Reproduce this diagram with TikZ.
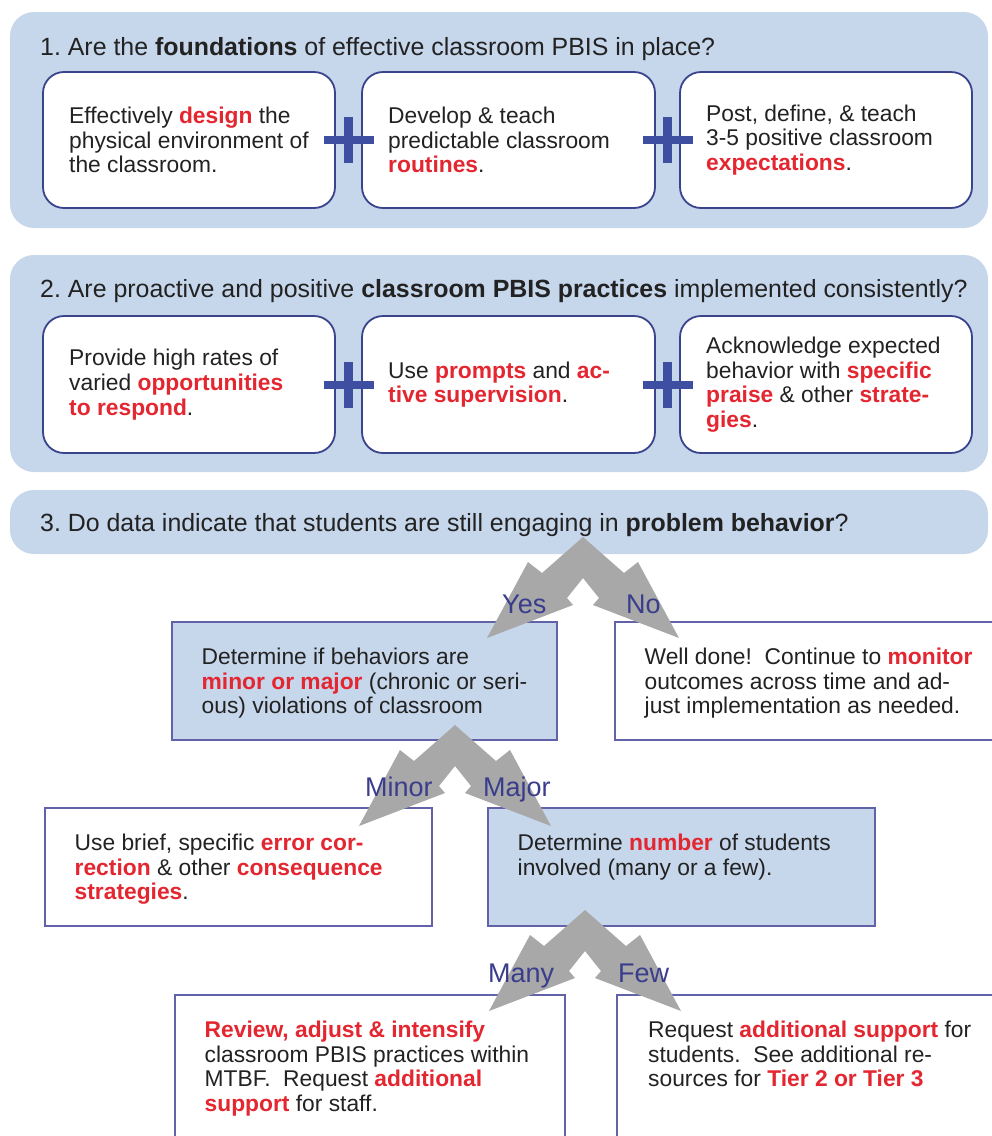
\documentclass[tikz,border=0pt]{standalone}
\usepackage{fontspec}
\setmainfont{Liberation Sans}
\usetikzlibrary{calc}
\frenchspacing

\definecolor{panelblue}{RGB}{198,214,235}
\definecolor{cardedge}{RGB}{58,68,140}
\definecolor{flowedge}{RGB}{98,98,168}
\definecolor{hlred}{RGB}{228,38,48}
\definecolor{ink}{RGB}{34,34,34}
\definecolor{plusblue}{RGB}{62,78,160}
\definecolor{arrowgray}{RGB}{168,168,168}
\definecolor{labelblue}{RGB}{58,60,140}

\newcommand\hl[1]{\textcolor{hlred}{\bfseries #1}}
\newcommand\bodyfont{\fontsize{22.8}{24.6}\selectfont}
\newcommand\titlefont{\fontsize{24.9}{29}\selectfont}
\newcommand\labelfont{\fontsize{27}{30}\selectfont}

\tikzset{
  pics/plussign/.style={code={
    \fill[plusblue] (-25,-4) rectangle (25,4);
    \fill[plusblue] (-4.5,-23) rectangle (4.5,23);
  }},
  pics/splitarrow/.style={code={
    \fill[arrowgray] (0,0) -- (-41,36) -- (-55,25) -- (-96,101) -- (-10,68)
      -- (-16,61) -- (0,41) -- (16,61) -- (10,68) -- (96,101) -- (55,25)
      -- (41,36) -- cycle;
  }}
}

\begin{document}
\begin{tikzpicture}[x=1pt,y=-1pt,
  panel/.style={fill=panelblue, rounded corners=24pt},
  card/.style={draw=cardedge, line width=1.8pt, fill=white, rounded corners=21pt,
    minimum width=292pt, minimum height=136pt, inner sep=0pt, outer sep=0pt},
  flowbox/.style={draw=flowedge, line width=1.5pt, fill=white,
    minimum height=118pt, inner sep=0pt, outer sep=0pt},
  bluebox/.style={flowbox, fill=panelblue},
  title/.style={anchor=base west, inner sep=0pt, font=\titlefont, text=ink},
  cardtext/.style={anchor=west, inner sep=0pt, align=left, font=\bodyfont, text=ink},
  flowtext/.style={anchor=north west, inner sep=0pt, align=left, font=\bodyfont,
    text=ink, execute at begin node=\strut},
  branch/.style={anchor=base west, inner sep=0pt, font=\labelfont, text=labelblue}]

\useasboundingbox (0,0) rectangle (992,1136);
\clip (0,0) rectangle (992,1136);

% question panels
\fill[panel] (10,12) rectangle (988,228);
\fill[panel] (10,255) rectangle (988,472);
\fill[panel] (10,490) rectangle (988,554);

\node[title] (q1) at (40,55) {1. Are the \textbf{foundations} of effective classroom PBIS in place?};
\node[title] (q2) at (40,297) {2. Are proactive and positive \textbf{classroom PBIS practices} implemented consistently?};
\node[title] (q3) at (40,531) {3. Do data indicate that students are still engaging in \textbf{problem behavior}?};

% foundation cards
\node[card] (c11) at (189,140) {};
\node[card, minimum width=293pt] (c12) at (508.5,140) {};
\node[card] (c13) at (826,140) {};
\node[cardtext] (c11t) at ([xshift=26pt]c11.west) {Effectively \hl{design} the\\physical environment of\\the classroom.};
\node[cardtext] (c12t) at ([xshift=26pt]c12.west) {Develop \& teach\\predictable classroom\\\hl{routines}.};
\node[cardtext] (c13t) at ([xshift=26pt]c13.west) {Post, define, \& teach\\3-5 positive classroom\\\hl{expectations}.};
\pic at ($(c11.east)!0.5!(c12.west)$) {plussign};
\pic at ($(c12.east)!0.5!(c13.west)$) {plussign};

% practice cards
\node[card, minimum height=137pt] (c21) at (189,384.5) {};
\node[card, minimum height=137pt, minimum width=293pt] (c22) at (508.5,384.5) {};
\node[card, minimum height=137pt] (c23) at (826,384.5) {};
\node[cardtext] (c21t) at ([xshift=26pt]c21.west) {Provide high rates of\\varied \hl{opportunities}\\\hl{to respond}.};
\node[cardtext] (c22t) at ([xshift=26pt]c22.west) {Use \hl{prompts} and \hl{ac-}\\\hl{tive supervision}.};
\node[cardtext] (c23t) at ([xshift=26pt]c23.west) {Acknowledge expected\\behavior with \hl{specific}\\\hl{praise} \& other \hl{strate-}\\\hl{gies}.};
\pic at ($(c21.east)!0.5!(c22.west)$) {plussign};
\pic at ($(c22.east)!0.5!(c23.west)$) {plussign};

% decision boxes
\node[bluebox, minimum width=385pt] (yes) at (364.5,681) {};
\node[flowbox, minimum width=395pt] (no) at (812.5,681) {};
\node[flowbox, minimum width=387pt] (minor) at (238.5,867) {};
\node[bluebox, minimum width=387pt] (major) at (681.5,867) {};
\node[flowbox, minimum width=390pt, minimum height=165pt] (many) at (370,1077.5) {};
\node[flowbox, minimum width=393pt, minimum height=165pt] (few) at (813.5,1077.5) {};

\node[flowtext] (yest) at ([xshift=29.5pt,yshift=-25.8pt]yes.north west) {Determine if behaviors are\\\hl{minor or major} (chronic or seri-\\ous) violations of classroom};
\node[flowtext] (not) at ([xshift=29.5pt,yshift=-25.8pt]no.north west) {Well done!\ \ Continue to \hl{monitor}\\outcomes across time and ad-\\just implementation as needed.};
\node[flowtext] (minort) at ([xshift=29.5pt,yshift=-25.8pt]minor.north west) {Use brief, specific \hl{error cor-}\\\hl{rection} \& other \hl{consequence}\\\hl{strategies}.};
\node[flowtext] (majort) at ([xshift=29.5pt,yshift=-25.8pt]major.north west) {Determine \hl{number} of students\\involved (many or a few).};
\node[flowtext] (manyt) at ([xshift=29.5pt,yshift=-25.8pt]many.north west) {\hl{Review, adjust \& intensify}\\classroom PBIS practices within\\MTBF.\ \ Request \hl{additional}\\\hl{support} for staff.};
\node[flowtext] (fewt) at ([xshift=31pt,yshift=-25.8pt]few.north west) {Request \hl{additional support} for\\students.\ \ See additional re-\\sources for \hl{Tier 2 or Tier 3}};

% branching arrows
\coordinate (split1) at (583,537);
\coordinate (split2) at (455,725);
\coordinate (split3) at (585,910);
\pic at (split1) {splitarrow};
\pic at (split2) {splitarrow};
\pic at (split3) {splitarrow};

\node[branch] (lyes) at (502,613) {Yes};
\node[branch] (lno) at (626,613) {No};
\node[branch] (lminor) at (365,796) {Minor};
\node[branch] (lmajor) at (483,796) {Major};
\node[branch] (lmany) at (488,982) {Many};
\node[branch] (lfew) at (618,982) {Few};
\end{tikzpicture}
\end{document}
